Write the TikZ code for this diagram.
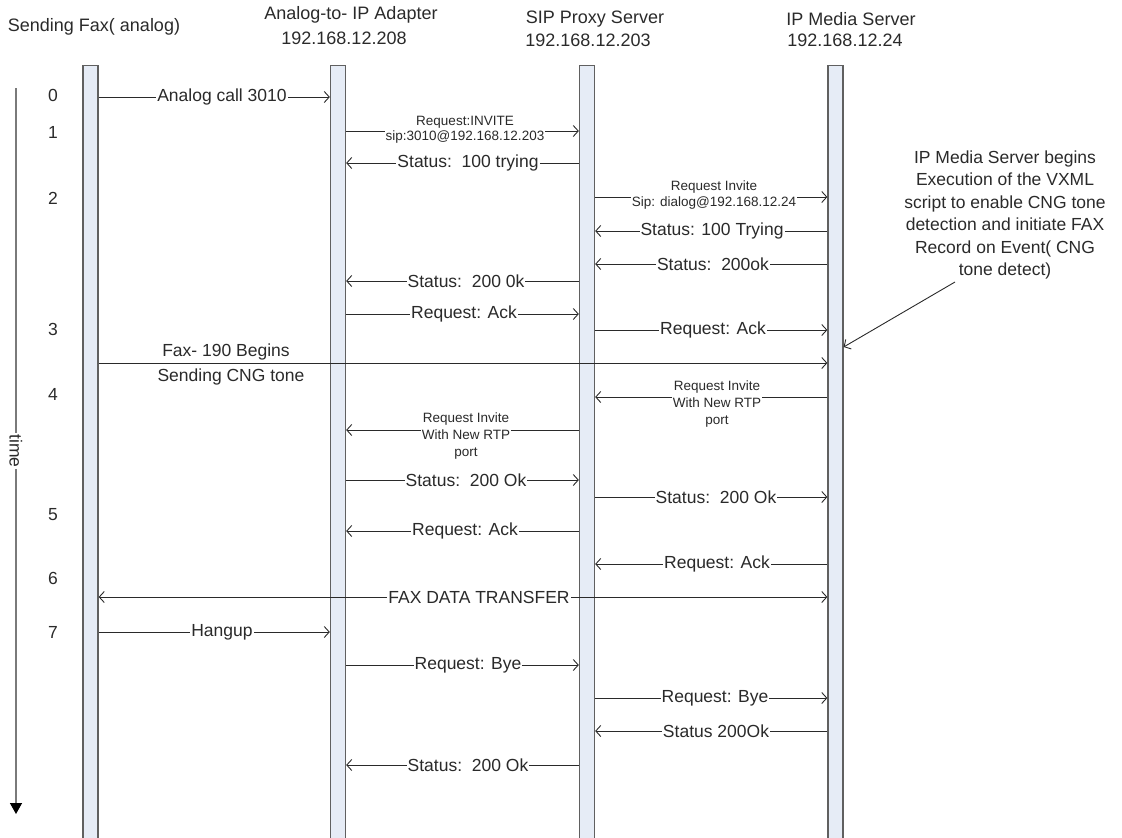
\documentclass[tikz,border=0pt]{standalone}
\usepackage{fontspec}
\setmainfont{Liberation Sans}
\usetikzlibrary{arrows.meta}
\definecolor{barfill}{HTML}{E6ECF6}
\definecolor{barline}{HTML}{606060}
\definecolor{ink}{HTML}{2A2A2A}
\definecolor{axis}{HTML}{7A7A7A}
\begin{document}
\begin{tikzpicture}[x=1pt,y=-1pt,
  lifeline/.style={draw=barline, fill=barfill, line width=1.3pt, minimum width=15pt, minimum height=780pt, inner sep=0pt, anchor=north},
  msg/.style={draw=ink, line width=0.9pt, -{Straight Barb[length=5pt,width=11pt]}},
  both/.style={draw=ink, line width=0.9pt, {Straight Barb[length=5pt,width=11pt]}-{Straight Barb[length=5pt,width=11pt]}},
  lbl/.style={fill=white, inner sep=1pt, text=ink, font=\fontsize{17.5}{20}\selectfont},
  slbl/.style={fill=white, inner sep=1pt, text=ink, font=\fontsize{13.5}{15.5}\selectfont, align=center},
  tlbl/.style={fill=white, inner sep=1pt, text=ink, font=\fontsize{13.5}{17}\selectfont, align=center},
  flbl/.style={inner sep=0pt, text=ink, font=\fontsize{17.5}{20}\selectfont},
  hdr/.style={inner sep=0pt, text=ink, font=\fontsize{18}{21}\selectfont},
  num/.style={inner sep=0pt, text=ink, font=\fontsize{17.5}{20}\selectfont},
  annot/.style={inner sep=0pt, text=ink, align=center, font=\fontsize{17.5}{22.4}\selectfont},
]
\useasboundingbox (0,0) rectangle (1122,838);

% headers
\node[hdr] (h1)  at (94,27)  {Sending Fax( analog)};
\node[hdr] (h2a) at (351,15) {Analog-to- IP Adapter};
\node[hdr] (h2b) at (344,38) {192.168.12.208};
\node[hdr] (h3a) at (595,19) {SIP Proxy Server};
\node[hdr] (h3b) at (588,40) {192.168.12.203};
\node[hdr] (h4a) at (851,19) {IP Media Server};
\node[hdr] (h4b) at (845,40) {192.168.12.24};

% lifelines
\node[lifeline] (b1) at (90.5,65) {};
\node[lifeline] (b2) at (338,65) {};
\node[lifeline] (b3) at (587,65) {};
\node[lifeline] (b4) at (835.5,65) {};

% time axis
\coordinate (ta) at (16,88);
\coordinate (tb) at (16,814);
\draw[draw=axis, line width=1.3pt, -{Triangle[length=11pt,width=12pt,color=black]}] (ta) -- (tb);
\node[fill=white, inner sep=1pt, rotate=-90, text=ink, font=\fontsize{17.5}{20}\selectfont] (tl) at (16,451) {time};

% step numbers
\node[num] (n0) at (53,95)  {0};
\node[num] (n1) at (53,132) {1};
\node[num] (n2) at (53,198) {2};
\node[num] (n3) at (53,329) {3};
\node[num] (n4) at (53,394) {4};
\node[num] (n5) at (53,515) {5};
\node[num] (n6) at (53,578) {6};
\node[num] (n7) at (53,632) {7};

% rows
\coordinate (r0)  at (0,97);
\coordinate (r1)  at (0,131);
\coordinate (r1b) at (0,163);
\coordinate (r2)  at (0,197);
\coordinate (r2b) at (0,231);
\coordinate (r2c) at (0,264);
\coordinate (r2d) at (0,281);
\coordinate (r2e) at (0,314);
\coordinate (r3)  at (0,330);
\coordinate (r3b) at (0,363);
\coordinate (r4)  at (0,397);
\coordinate (r4b) at (0,430);
\coordinate (r4c) at (0,480);
\coordinate (r4d) at (0,497);
\coordinate (r5)  at (0,531);
\coordinate (r5b) at (0,564);
\coordinate (r6)  at (0,597);
\coordinate (r7)  at (0,632);
\coordinate (r7b) at (0,665);
\coordinate (r7c) at (0,698);
\coordinate (r7d) at (0,731);
\coordinate (r7e) at (0,765);
\coordinate (ra)  at (0,347);

% messages
\draw[msg] (b1.east |- r0) -- (b2.west |- r0);
\node[lbl] (m0) at (222,97) {Analog call 3010};

\draw[msg] (b2.east |- r1) -- (b3.west |- r1);
\node[slbl] (m1) at (465,130) {Request:INVITE\\sip:3010@192.168.12.203};

\draw[msg] (b3.west |- r1b) -- (b2.east |- r1b);
\node[lbl] (m1b) at (468,163) {Status:\ \ 100 trying};

\draw[msg] (b3.east |- r2) -- (b4.west |- r2);
\node[slbl] (m2) at (714,195) {Request Invite\\Sip: dialog@192.168.12.24};

\draw[msg] (b4.west |- r2b) -- (b3.east |- r2b);
\node[lbl] (m2b) at (712,231) {Status: 100 Trying};

\draw[msg] (b4.west |- r2c) -- (b3.east |- r2c);
\node[lbl] (m2c) at (713,264) {Status:\ \ 200ok};

\draw[msg] (b3.west |- r2d) -- (b2.east |- r2d);
\node[lbl] (m2d) at (466,281) {Status:\ \ 200 0k};

\draw[msg] (b2.east |- r2e) -- (b3.west |- r2e);
\node[lbl] (m2e) at (464,314) {Request: Ack};

\draw[msg] (b3.east |- r3) -- (b4.west |- r3);
\node[lbl] (m3) at (713,330) {Request: Ack};

\draw[msg] (b1.east |- r3b) -- (b4.west |- r3b);
\node[flbl] (m3a) at (226,352) {Fax- 190 Begins};
\node[flbl] (m3c) at (231,377) {Sending CNG tone};

\draw[msg] (b4.west |- r4) -- (b3.east |- r4);
\node[tlbl] (m4) at (717,404) {Request Invite\\With New RTP\\port};

\draw[msg] (b3.west |- r4b) -- (b2.east |- r4b);
\node[tlbl] (m4b) at (466,436) {Request Invite\\With New RTP\\port};

\draw[msg] (b2.east |- r4c) -- (b3.west |- r4c);
\node[lbl] (m4c) at (466,480) {Status:\ \ 200 Ok};

\draw[msg] (b3.east |- r4d) -- (b4.west |- r4d);
\node[lbl] (m4d) at (716,497) {Status:\ \ 200 Ok};

\draw[msg] (b3.west |- r5) -- (b2.east |- r5);
\node[lbl] (m5) at (465,531) {Request: Ack};

\draw[msg] (b4.west |- r5b) -- (b3.east |- r5b);
\node[lbl] (m5b) at (717,564) {Request: Ack};

\draw[both] (b1.east |- r6) -- (b4.west |- r6);
\node[lbl] (m6) at (479,597) {FAX DATA TRANSFER};

\draw[msg] (b1.east |- r7) -- (b2.west |- r7);
\node[lbl] (m7) at (222,632) {Hangup};

\draw[msg] (b2.east |- r7b) -- (b3.west |- r7b);
\node[lbl] (m7b) at (468,665) {Request: Bye};

\draw[msg] (b3.east |- r7c) -- (b4.west |- r7c);
\node[lbl] (m7c) at (715,698) {Request: Bye};

\draw[msg] (b4.west |- r7d) -- (b3.east |- r7d);
\node[lbl] (m7d) at (716,731) {Status 200Ok};

\draw[msg] (b3.west |- r7e) -- (b2.east |- r7e);
\node[lbl] (m7e) at (468,765) {Status:\ \ 200 Ok};

% annotation
\node[annot] (note) at (1005,215) {IP Media Server begins\\Execution of the VXML\\script to enable CNG tone\\detection and initiate FAX\\Record on Event( CNG\\tone detect)};
\coordinate (na) at (955,282);
\draw[msg] (na) -- (b4.east |- ra);
\end{tikzpicture}
\end{document}
